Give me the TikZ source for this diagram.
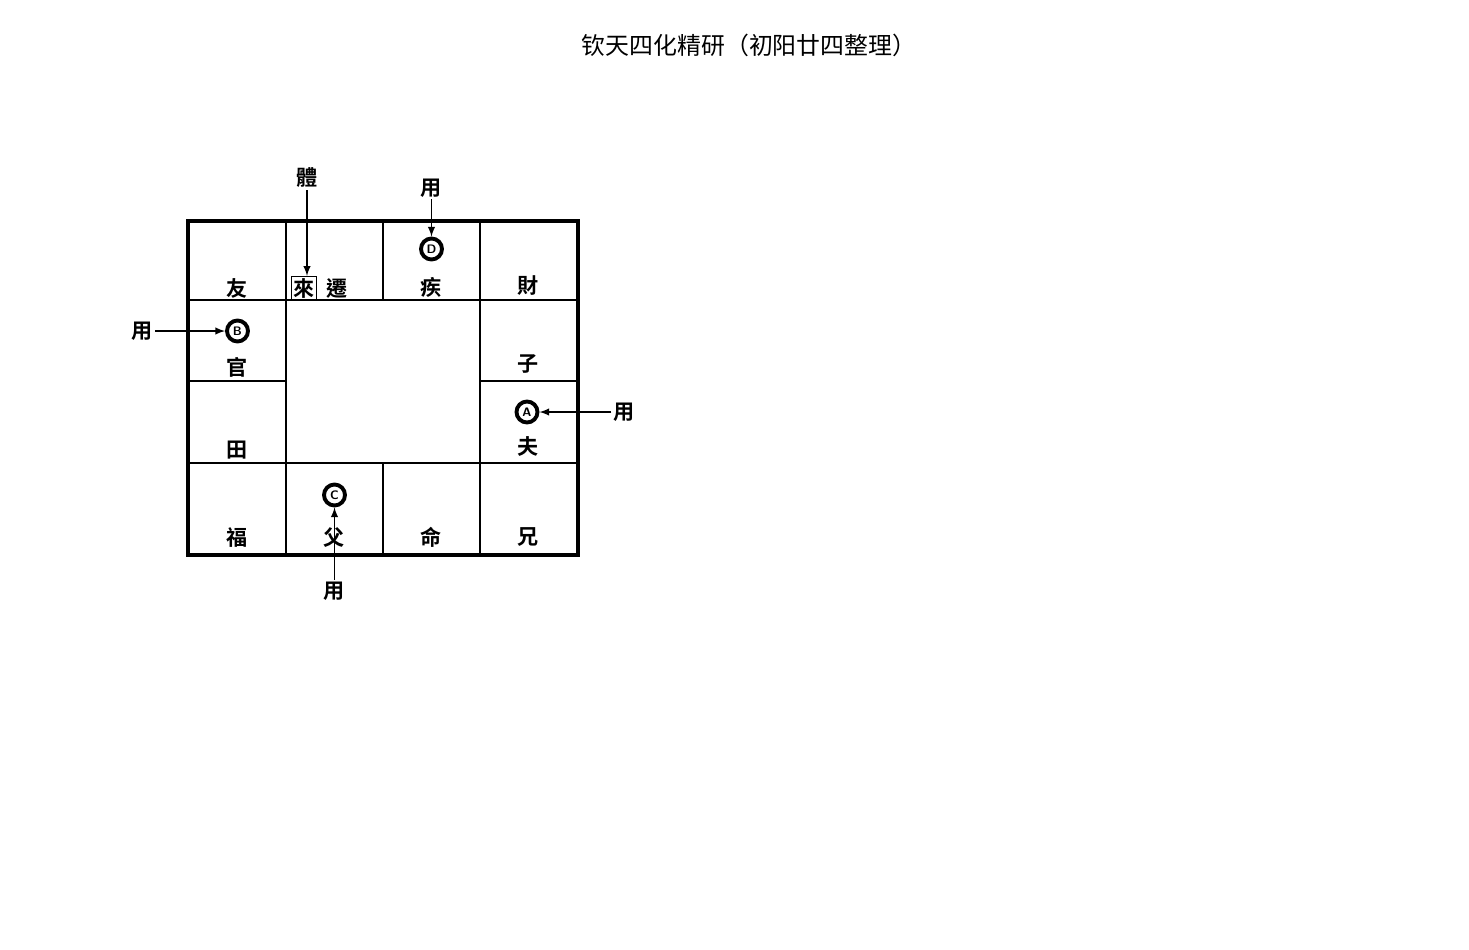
\documentclass[tikz,border=0pt]{standalone}
\usepackage{fontspec}
\newfontfamily\cjk{Noto Sans CJK SC}
\newfontfamily\cjktc{Noto Sans CJK TC}[BoldFont={Noto Sans CJK TC Bold}]
\usetikzlibrary{shapes, arrows, calc}
\tikzstyle{cell} = [rectangle, minimum width=1.94cm, minimum height=1.62cm, draw=black, line width=1pt, inner sep=0pt]
\tikzstyle{palace} = [rectangle, text centered, inner sep=1pt, font=\cjktc\bfseries\fontsize{12}{14}\selectfont]
\tikzstyle{usecircle} = [circle, draw=black, line width=2.2pt, minimum size=0.42cm, inner sep=0pt, font=\sffamily\bfseries\scriptsize]
\tikzstyle{arrow} = [line width=0.9pt,->,>=latex]
\tikzstyle{frame} = [draw=black, line width=2.4pt]

\begin{document}
\begin{tikzpicture}

\useasboundingbox (0,0) rectangle (29.38,-18.98);

% Title
\node (title) at (14.98,-0.9) {\cjk\fontsize{13.6}{16}\selectfont 钦天四化精研（初阳廿四整理）};

% Grid
\node (c11) [cell, minimum height=1.56cm] at (4.75,-5.22) {};
\node (c12) [cell, minimum height=1.56cm, right of=c11, xshift=0.94cm] {};
\node (c13) [cell, minimum height=1.56cm, right of=c12, xshift=0.94cm] {};
\node (c14) [cell, minimum height=1.56cm, right of=c13, xshift=0.94cm] {};
\node (c21) [cell, below of=c11, yshift=-0.59cm] {};
\node (c31) [cell, below of=c21, yshift=-0.63cm] {};
\node (c41) [cell, minimum height=1.82cm, below of=c31, yshift=-0.73cm] {};
\node (c24) [cell, below of=c14, yshift=-0.59cm] {};
\node (c34) [cell, below of=c24, yshift=-0.63cm] {};
\node (c44) [cell, minimum height=1.82cm, below of=c34, yshift=-0.73cm] {};
\node (c42) [cell, minimum height=1.82cm, right of=c41, xshift=0.94cm] {};
\node (c43) [cell, minimum height=1.82cm, right of=c42, xshift=0.94cm] {};

\draw [frame] (c11.north west) rectangle (c44.south east);

% Palaces
\node (you) [palace, below of=c11, yshift=0.46cm] {友};
\node (lai) [palace, draw=black, line width=0.6pt, below of=c12, xshift=-0.61cm, yshift=0.46cm] {來};
\node (qian) [palace, below of=c12, xshift=0.05cm, yshift=0.46cm] {遷};
\node (ji) [palace, below of=c13, yshift=0.48cm] {疾};
\node (cai) [palace, below of=c14, yshift=0.5cm] {財};
\node (guan) [palace, below of=c21, yshift=0.47cm] {官};
\node (zi) [palace, below of=c24, yshift=0.53cm] {子};
\node (tian) [palace, below of=c31, yshift=0.44cm] {田};
\node (fu) [palace, below of=c34, yshift=0.52cm] {夫};
\node (fuqi) [palace, below of=c41, yshift=0.41cm] {福};
\node (fumu) [palace, below of=c42, yshift=0.41cm] {父};
\node (ming) [palace, below of=c43, yshift=0.43cm] {命};
\node (xiong) [palace, below of=c44, yshift=0.43cm] {兄};

% Circles
\node (pD) [usecircle, above of=c13, yshift=-0.76cm] {D};
\node (pB) [usecircle, above of=c21, yshift=-0.81cm] {B};
\node (pA) [usecircle, above of=c34, yshift=-0.8cm, xshift=-0.03cm] {A};
\node (pC) [usecircle, above of=c42, yshift=-0.73cm] {C};

% Use / body
\node (uD) [palace, above of=pD, yshift=0.22cm] {用};
\node (uB) [palace, left of=pB, xshift=-0.9cm] {用};
\node (uA) [palace, right of=pA, xshift=0.94cm] {用};
\node (uC) [palace, below of=pC, yshift=-0.92cm] {用};
\node (ti) [palace, above of=lai, yshift=1.2cm, xshift=0.06cm] {體};

\draw [arrow] (uD) -- (pD);
\draw [arrow] (uB) -- (pB);
\draw [arrow] (uA) -- (pA);
\draw [arrow] (uC) -- (pC);
\draw [arrow] (ti.south) -- (ti.south |- lai.north);

\end{tikzpicture}
\end{document}
